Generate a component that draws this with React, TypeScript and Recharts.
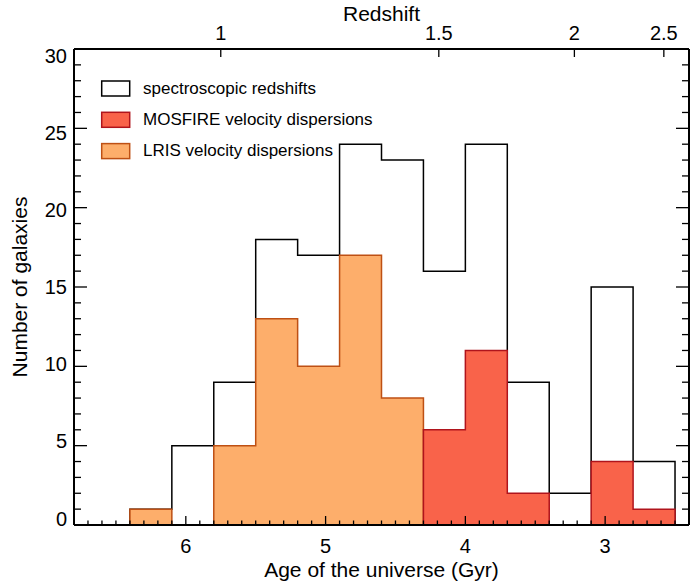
import React from 'react';
import { ComposedChart, Area, XAxis, YAxis, Legend } from 'recharts';

// ---- data ----
const binEdges = [6.4, 6.1, 5.8, 5.5, 5.2, 4.9, 4.6, 4.3, 4.0, 3.7, 3.4, 3.1, 2.8, 2.5];
const specCounts = [1, 5, 9, 18, 17, 24, 23, 16, 24, 9, 2, 15, 4];
const mosfireCounts = [0, 0, 0, 0, 0, 0, 0, 6, 11, 2, 0, 4, 1];
const lrisCounts = [1, 0, 5, 13, 10, 17, 8, 0, 0, 0, 0, 0, 0];
const ageLabelTicks = [6, 5, 4, 3];
const ageMinorTicks = Array.from({ length: 43 }, (_, i) => Math.round((2.5 + i * 0.1) * 10) / 10);
const countTicks = Array.from({ length: 31 }, (_, i) => i);
const redshiftLabels = ['1', '1.5', '2', '2.5'];
const redshiftAges = [5.75, 4.19, 3.22, 2.58];

const legendItems = [
  { label: 'spectroscopic redshifts', fill: '#ffffff', stroke: '#000000' },
  { label: 'MOSFIRE velocity dispersions', fill: '#F9634A', stroke: '#B0141C' },
  { label: 'LRIS velocity dispersions', fill: '#FDAE6B', stroke: '#BE5014' },
];

// ---- step table built from the arrays ----
const seriesMap: Record<string, number[]> = { spec: specCounts, mos: mosfireCounts, lris: lrisCounts };
const rows: any[] = [];
const nBins = specCounts.length;
for (let j = 0; j <= nBins; j++) {
  const e = binEdges[j];
  for (const side of ['L', 'R']) {
    const row: any = { x: e };
    for (const k of Object.keys(seriesMap)) {
      const c = seriesMap[k];
      const left = j > 0 ? c[j - 1] : 0;
      const right = j < nBins ? c[j] : 0;
      row[k] = left === 0 && right === 0 ? null : side === 'L' ? left : right;
    }
    rows.push(row);
  }
  if (j < nBins) {
    const row: any = { x: (e + binEdges[j + 1]) / 2 };
    for (const k of Object.keys(seriesMap)) {
      const c = seriesMap[k];
      row[k] = c[j] === 0 ? null : c[j];
    }
    rows.push(row);
  }
}

const FONT = '"Liberation Sans", Arial, Helvetica, sans-serif';
const TICK_W = 1.3;

const BottomTick = (props: any) => {
  const { x, y, payload } = props;
  const v = payload.value;
  const major = ageLabelTicks.includes(v);
  return (
    <g>
      <line x1={x} x2={x} y1={y} y2={y - (major ? 9 : 4.5)} stroke="#000" strokeWidth={TICK_W} />
      {major && (
        <text x={x} y={y + 28} textAnchor="middle" fontSize={20} fontFamily={FONT} fill="#000">
          {v}
        </text>
      )}
    </g>
  );
};

const TopTick = (props: any) => {
  const { x, y, index } = props;
  return (
    <g>
      <line x1={x} x2={x} y1={y} y2={y + 8} stroke="#000" strokeWidth={TICK_W} />
      <text x={x} y={y - 9} textAnchor="middle" fontSize={20} fontFamily={FONT} fill="#000">
        {redshiftLabels[index]}
      </text>
    </g>
  );
};

const LeftTick = (props: any) => {
  const { x, y, payload } = props;
  const v = payload.value;
  const major = v % 5 === 0;
  const shift = ((v - 15) / 15) * 6.5;
  return (
    <g>
      <line x1={x} x2={x + (major ? 13 : 7)} y1={y} y2={y} stroke="#000" strokeWidth={TICK_W} />
      {major && (
        <text x={x - 7} y={y + shift + 7} textAnchor="end" fontSize={20} fontFamily={FONT} fill="#000">
          {v}
        </text>
      )}
    </g>
  );
};

const RightTick = (props: any) => {
  const { x, y, payload } = props;
  const v = payload.value;
  const major = v % 5 === 0;
  return <line x1={x} x2={x - (major ? 13 : 7)} y1={y} y2={y} stroke="#000" strokeWidth={TICK_W} />;
};

const renderLegend = () => (
  <svg width={340} height={86} style={{ display: 'block' }}>
    {legendItems.map((it, i) => (
      <g key={it.label}>
        <rect x={1.7} y={3 + i * 31.3} width={28} height={15} fill={it.fill} stroke={it.stroke} strokeWidth={1.5} />
        <text x={43} y={15.5 + i * 31.3} fontSize={17} fontFamily={FONT} fill="#000">
          {it.label}
        </text>
      </g>
    ))}
  </svg>
);

export default function App() {
  return (
    <div style={{ position: 'absolute', left: 0, top: 0, width: 691, height: 585, background: '#fff' }}>
      <ComposedChart width={691} height={585} data={rows} margin={{ top: 48, right: 1, bottom: 59, left: 73 }}>
        <Area
          xAxisId="bottom"
          yAxisId="left"
          dataKey="spec"
          type="stepAfter"
          stroke="#000"
          strokeWidth={1.5}
          fill="none"
          dot={false}
          activeDot={false}
          isAnimationActive={false}
        />
        <Area
          xAxisId="bottom"
          yAxisId="left"
          dataKey="lris"
          type="stepAfter"
          stroke="#BE5014"
          strokeWidth={1.5}
          fill="#FDAE6B"
          fillOpacity={1}
          dot={false}
          activeDot={false}
          isAnimationActive={false}
        />
        <Area
          xAxisId="bottom"
          yAxisId="left"
          dataKey="mos"
          type="stepAfter"
          stroke="#B0141C"
          strokeWidth={1.5}
          fill="#F9634A"
          fillOpacity={1}
          dot={false}
          activeDot={false}
          isAnimationActive={false}
        />
        <XAxis
          xAxisId="bottom"
          dataKey="x"
          type="number"
          domain={[2.4, 6.8]}
          allowDataOverflow
          reversed
          orientation="bottom"
          height={1}
          ticks={ageMinorTicks}
          interval={0}
          tickSize={0}
          tickMargin={0}
          tickLine={false}
          tick={<BottomTick />}
          axisLine={{ stroke: '#000', strokeWidth: 2 }}
          label={{
            content: () => (
              <text x={381.5} y={577} textAnchor="middle" fontSize={21} fontFamily={FONT} fill="#000">
                Age of the universe (Gyr)
              </text>
            ),
          }}
        />
        <XAxis
          xAxisId="top"
          dataKey="x"
          type="number"
          domain={[2.4, 6.8]}
          allowDataOverflow
          reversed
          orientation="top"
          height={1}
          ticks={redshiftAges}
          interval={0}
          tickSize={0}
          tickMargin={0}
          tickLine={false}
          tick={<TopTick />}
          axisLine={{ stroke: '#000', strokeWidth: 2 }}
          label={{
            content: () => (
              <text x={381.5} y={21} textAnchor="middle" fontSize={21} fontFamily={FONT} fill="#000">
                Redshift
              </text>
            ),
          }}
        />
        <YAxis
          yAxisId="left"
          type="number"
          domain={[0, 30]}
          allowDataOverflow
          orientation="left"
          width={1}
          ticks={countTicks}
          interval={0}
          tickSize={0}
          tickMargin={0}
          tickLine={false}
          tick={<LeftTick />}
          axisLine={{ stroke: '#000', strokeWidth: 2 }}
          label={{
            content: () => (
              <text
                x={27}
                y={287}
                transform="rotate(-90 27 287)"
                textAnchor="middle"
                fontSize={21}
                fontFamily={FONT}
                fill="#000"
              >
                Number of galaxies
              </text>
            ),
          }}
        />
        <YAxis
          yAxisId="right"
          type="number"
          domain={[0, 30]}
          allowDataOverflow
          orientation="right"
          width={1}
          ticks={countTicks}
          interval={0}
          tickSize={0}
          tickMargin={0}
          tickLine={false}
          tick={<RightTick />}
          axisLine={{ stroke: '#000', strokeWidth: 2 }}
        />
        <Legend
          layout="vertical"
          align="center"
          verticalAlign="middle"
          content={renderLegend}
          wrapperStyle={{ left: 100, top: 78, width: 340, height: 86 }}
        />
      </ComposedChart>
    </div>
  );
}
